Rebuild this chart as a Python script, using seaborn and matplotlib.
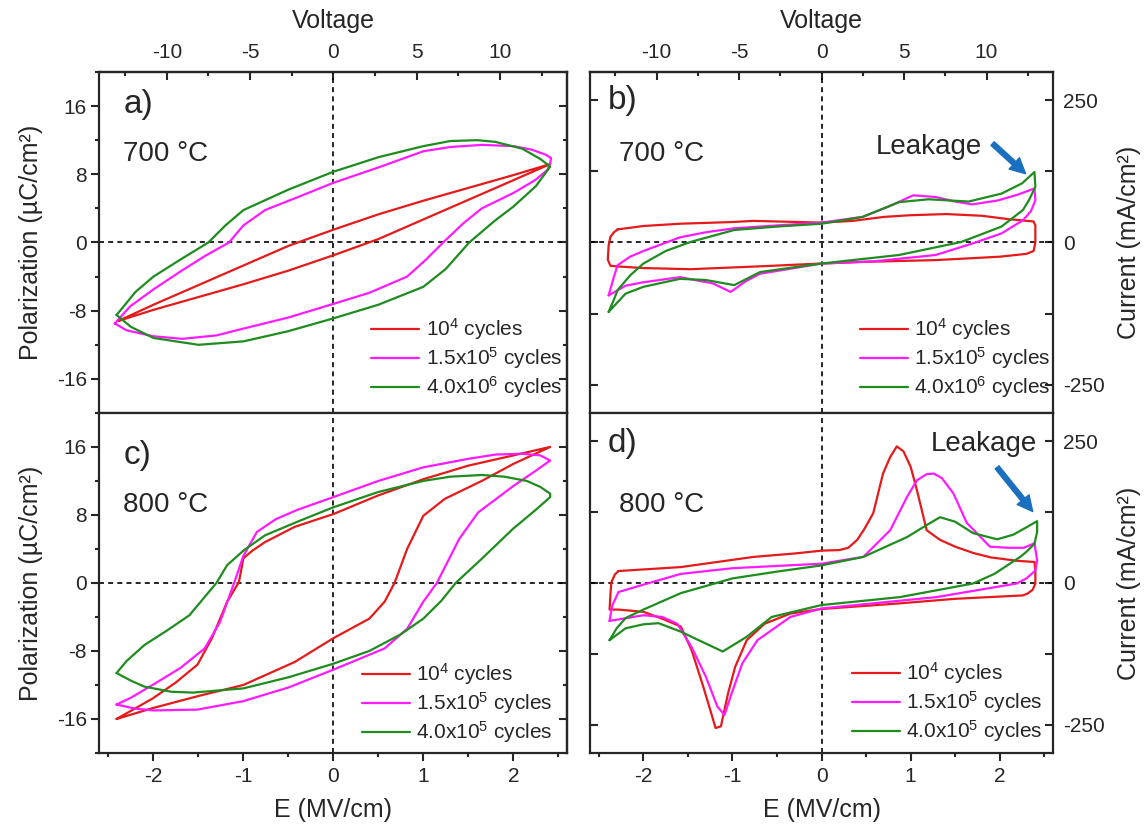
import numpy as np
import pandas as pd
import seaborn as sns
import matplotlib.pyplot as plt
from matplotlib.ticker import MultipleLocator, FixedLocator

sns.set_style('ticks')
plt.rcParams['font.family'] = ['Liberation Sans', 'DejaVu Sans']
plt.rcParams['mathtext.default'] = 'regular'
plt.rcParams['axes.unicode_minus'] = False

# kleuren
RED = '#e51a1a'
MAG = '#ff1aff'
GRN = '#1e8c1e'
BLUE = '#1b6fbf'

# ---- a) P-E 700 C  (lower branch links->rechts, dan upper terug)
a_red_E = [-2.39, -2.0, -1.5, -1.0, -0.5, 0, 0.5, 1.0, 1.5, 2.0, 2.41,
           2.0, 1.5, 1.0, 0.5, 0, -0.5, -1.0, -1.5, -2.0, -2.39]
a_red_P = [-9.2, -7.9, -6.4, -4.9, -3.3, -1.5, 0.4, 2.7, 5.0, 7.3, 9.2,
           7.9, 6.4, 4.9, 3.3, 1.5, -0.4, -2.7, -5.0, -7.3, -9.2]
a_mag_E = [-2.43, -2.3, -2.0, -1.68, -1.3, -1.0, -0.5, 0, 0.4, 0.82, 1.03, 1.22, 1.45, 1.65, 2.0, 2.24, 2.38, 2.41,
           2.42, 2.36, 2.2, 2.0, 1.65, 1.3, 1.0, 0.5, 0, -0.4, -0.76, -1.0, -1.16, -1.43, -1.7, -2.0, -2.26, -2.43]
a_mag_P = [-9.5, -10.3, -11.0, -11.3, -10.9, -10.1, -8.8, -7.2, -5.9, -4.0, -2.0, 0, 2.3, 4.0, 5.8, 7.3, 8.5, 9.3,
           9.9, 10.3, 10.9, 11.3, 11.45, 11.2, 10.7, 8.8, 7.0, 5.3, 3.8, 2.0, 0, -1.6, -3.4, -5.5, -7.5, -9.5]
a_grn_E = [-2.41, -2.25, -2.0, -1.5, -1.0, -0.5, 0, 0.5, 1.0, 1.25, 1.51, 1.8, 2.0, 2.25, 2.41,
           2.3, 2.1, 1.8, 1.6, 1.3, 1.0, 0.5, 0, -0.5, -0.75, -1.0, -1.2, -1.39, -1.7, -2.0, -2.2, -2.3, -2.41]
a_grn_P = [-8.5, -9.9, -11.2, -12.0, -11.6, -10.4, -8.9, -7.3, -5.2, -3.1, 0, 2.6, 4.2, 6.6, 8.9,
           9.8, 11.0, 11.8, 12.0, 11.9, 11.3, 10.0, 8.3, 6.2, 5.0, 3.8, 2.0, 0, -2.0, -4.0, -5.8, -7.1, -8.5]

# ---- c) P-E 800 C
c_red_E = [-2.41, -2.0, -1.5, -1.0, -0.43, 0, 0.4, 0.57, 0.68, 0.82, 1.0, 1.24, 1.65, 2.0, 2.41,
           2.0, 1.5, 1.0, 0.5, 0, -0.43, -0.76, -0.9, -1.0, -1.05, -1.18, -1.35, -1.51, -1.75, -2.01, -2.41]
c_red_P = [-16.0, -14.7, -13.3, -12.0, -9.3, -6.5, -4.2, -2.2, 0, 4.0, 7.9, 9.9, 12.0, 14.0, 16.0,
           15.0, 13.8, 12.2, 10.3, 8.1, 6.6, 4.8, 3.8, 2.9, 0.1, -2.2, -6.5, -9.6, -11.7, -13.6, -16.0]
c_mag_E = [-2.41, -2.2, -2.0, -1.51, -1.0, -0.5, 0, 0.57, 0.82, 1.0, 1.15, 1.4, 1.61, 2.0, 2.25, 2.41,
           2.3, 2.1, 1.8, 1.5, 1.0, 0.5, 0, -0.4, -0.64, -0.85, -1.0, -1.1, -1.26, -1.43, -1.7, -2.01, -2.25, -2.41]
c_mag_P = [-14.3, -14.8, -15.0, -14.9, -13.9, -12.3, -10.2, -7.7, -5.4, -2.2, 0, 5.2, 8.3, 11.4, 13.2, 14.4,
           15.0, 15.2, 15.1, 14.6, 13.6, 12.0, 10.1, 8.6, 7.5, 6.0, 3.2, 0.1, -4.6, -7.7, -10.0, -12.0, -13.5, -14.3]
c_grn_E = [-2.41, -2.25, -2.1, -1.8, -1.56, -1.0, -0.5, 0, 0.4, 0.74, 1.0, 1.2, 1.36, 1.65, 2.0, 2.25, 2.41,
           2.41, 2.3, 2.15, 1.9, 1.65, 1.3, 1.0, 0.5, 0, -0.4, -0.76, -1.0, -1.18, -1.3, -1.6, -1.85, -2.1, -2.3, -2.41]
c_grn_P = [-10.6, -11.5, -12.2, -12.8, -12.9, -12.4, -11.1, -9.5, -8.0, -6.1, -4.2, -2.1, 0, 2.85, 6.4, 8.6, 10.1,
           10.5, 11.3, 12.0, 12.5, 12.7, 12.5, 12.0, 10.7, 8.9, 7.2, 5.6, 3.8, 2.1, 0, -3.8, -5.6, -7.3, -9.2, -10.6]

# ---- b) I-E 700 C
b_red_E = [-2.29, -2.0, -1.59, -1.0, -0.77, 0, 0.35, 0.7, 1.0, 1.4, 1.8, 2.1, 2.38, 2.40, 2.40, 2.38, 2.3,
           2.0, 1.28, 0.5, 0, -0.7, -1.47, -2.0, -2.3, -2.37, -2.40, -2.39, -2.37, -2.33, -2.29]
b_red_I = [23, 29, 33, 36, 38, 35, 38, 45, 48, 50, 47, 41, 37, 30, 0, -15, -20,
           -25, -31, -34, -37, -42, -47, -45, -42, -41, -30, -5, 10, 18, 23]
b_mag_E = [-2.39, -2.33, -2.29, -2.15, -2.0, -1.59, -1.3, -0.98, -0.5, 0, 0.46, 0.75, 1.03, 1.28, 1.5, 1.69, 1.98, 2.2, 2.39,
           2.40, 2.35, 2.26, 2.02, 1.69, 1.28, 0.6, 0, -0.69, -0.85, -1.02, -1.22, -1.59, -2.0, -2.2, -2.39]
b_mag_I = [-93, -60, -40, -25, -15, 9, 18, 25, 30, 35, 45, 63, 83, 80, 72, 67, 74, 84, 95,
           74, 55, 39, 16, -2, -22, -33, -37, -55, -68, -87, -72, -61, -70, -76, -93]
b_grn_E = [-2.39, -2.33, -2.29, -2.15, -2.0, -1.75, -1.47, -0.98, -0.5, 0, 0.46, 0.87, 1.2, 1.65, 2.02, 2.25, 2.39,
           2.40, 2.33, 2.26, 2.02, 1.57, 0.87, 0, -0.69, -0.98, -1.3, -1.59, -2.0, -2.2, -2.39]
b_grn_I = [-122, -100, -84, -58, -37, -15, 1, 22, 28, 33, 45, 71, 76, 72, 86, 104, 124,
           98, 75, 57, 28, 1, -22, -37, -52, -75, -66, -64, -78, -90, -122]

# ---- d) I-E 800 C
d_red_E = [-2.28, -1.58, -0.76, -0.3, 0, 0.2, 0.3, 0.40, 0.48, 0.58, 0.69, 0.77, 0.845, 0.92, 1.0, 1.07, 1.18, 1.33, 1.5, 1.7,
           1.9, 2.2, 2.39, 2.40, 2.40, 2.37, 2.31, 2.26, 1.5, 0.88, 0, -0.35, -0.64, -0.84, -0.97, -1.05, -1.13, -1.19,
           -1.25, -1.34, -1.46, -1.58, -1.79, -2.0, -2.28, -2.38, -2.37, -2.36, -2.32, -2.28]
d_red_I = [21, 28, 46, 52, 57, 58, 62, 76, 95, 123, 193, 222, 241, 232, 205, 164, 93, 76, 64, 53,
           45, 39, 37, 20, -1, -12, -19, -22, -28, -36, -46, -54, -72, -101, -148, -195, -253, -256,
           -224, -177, -118, -77, -63, -51, -47, -47, -20, 1, 15, 21]
d_mag_E = [-2.38, -2.35, -2.28, -2.0, -1.58, -1.0, 0, 0.47, 0.77, 0.96, 1.07, 1.18, 1.26, 1.35, 1.48, 1.63, 1.89, 2.1, 2.27, 2.39,
           2.42, 2.40, 2.3, 2.19, 1.29, 0, -0.35, -0.72, -0.89, -1.01, -1.09, -1.17, -1.30, -1.46, -1.62, -1.79, -2.0, -2.38]
d_mag_I = [-67, -40, -16, -3, 16, 26, 34, 46, 93, 152, 181, 192, 193, 185, 158, 106, 64, 62, 62, 70,
           40, 22, 8, -1, -25, -45, -60, -101, -142, -195, -233, -218, -165, -113, -72, -60, -57, -67]
d_grn_E = [-2.38, -2.3, -2.2, -2.0, -1.58, -1.0, -0.5, 0, 0.47, 0.96, 1.2, 1.33, 1.5, 1.70, 1.97, 2.15, 2.31, 2.42,
           2.42, 2.39, 2.3, 2.23, 1.94, 1.7, 0.88, 0, -0.56, -0.84, -1.11, -1.38, -1.58, -1.83, -2.0, -2.2, -2.38]
d_grn_I = [-101, -80, -62, -47, -18, 8, 20, 31, 46, 81, 104, 116, 108, 88, 77, 85, 99, 109,
           90, 69, 55, 46, 16, -1, -25, -39, -60, -95, -121, -101, -86, -71, -73, -80, -101]

labels_700 = ['10$^4$ cycles', '1.5x10$^5$ cycles', '4.0x10$^6$ cycles']
labels_800 = ['10$^4$ cycles', '1.5x10$^5$ cycles', '4.0x10$^5$ cycles']
V_PER_E = 5.4  # volt per MV/cm

fig = plt.figure(figsize=(11.46, 8.32), dpi=100)
ax_a = fig.add_axes([0.0868, 0.5036, 0.4082, 0.4099])
ax_c = fig.add_axes([0.0868, 0.0950, 0.4082, 0.4087])
ax_b = fig.add_axes([0.5148, 0.5036, 0.4042, 0.4099])
ax_d = fig.add_axes([0.5148, 0.0950, 0.4042, 0.4087])

series = {
    ax_a: [(a_red_E, a_red_P), (a_mag_E, a_mag_P), (a_grn_E, a_grn_P)],
    ax_c: [(c_red_E, c_red_P), (c_mag_E, c_mag_P), (c_grn_E, c_grn_P)],
    ax_b: [(b_red_E, b_red_I), (b_mag_E, b_mag_I), (b_grn_E, b_grn_I)],
    ax_d: [(d_red_E, d_red_I), (d_mag_E, d_mag_I), (d_grn_E, d_grn_I)],
}
labs = {ax_a: labels_700, ax_b: labels_700, ax_c: labels_800, ax_d: labels_800}

for ax, ser in series.items():
    ax.axhline(0, color='k', ls=(0, (3, 2.5)), lw=1.2, zorder=1)
    ax.axvline(0, color='k', ls=(0, (3, 2.5)), lw=1.2, zorder=1)
    for (E, Y), col, lab in zip(ser, [RED, MAG, GRN], labs[ax]):
        sns.lineplot(x=E, y=Y, sort=False, estimator=None, color=col, lw=1.6, ax=ax, label=lab)
    ax.set_xlim(-2.6, 2.6)
    for s in ax.spines.values():
        s.set_linewidth(1.6)
        s.set_visible(True)
    ax.xaxis.set_major_locator(MultipleLocator(1))
    ax.xaxis.set_minor_locator(MultipleLocator(0.5))
    ax.tick_params(axis='x', which='both', direction='out', top=False, bottom=True, width=1.5, labelsize=15, pad=4)
    ax.tick_params(axis='x', which='major', length=6)
    ax.tick_params(axis='x', which='minor', length=3)
    ax.set_xlabel('')
    ax.set_ylabel('')

# links: polarisatie
for ax in [ax_a, ax_c]:
    ax.set_ylim(-20, 20)
    ax.yaxis.set_major_locator(MultipleLocator(8))
    ax.yaxis.set_minor_locator(MultipleLocator(4))
    ax.tick_params(axis='y', which='both', direction='out', left=True, right=False, width=1.5, labelsize=15, pad=3)
    ax.tick_params(axis='y', which='major', length=6)
    ax.tick_params(axis='y', which='minor', length=3)
    ax.set_ylabel('Polarization (µC/cm²)', fontsize=18, labelpad=10)
    sec = ax.secondary_yaxis('right')
    sec.yaxis.set_major_locator(FixedLocator([-16, -8, 0, 8, 16]))
    sec.yaxis.set_minor_locator(FixedLocator([-12, -4, 4, 12]))
    sec.tick_params(which='both', direction='in', width=1.5, labelright=False)
    sec.tick_params(which='major', length=6)
    sec.tick_params(which='minor', length=3)
    sec.spines['right'].set_linewidth(1.6)

# rechts: stroom
for ax in [ax_b, ax_d]:
    ax.set_ylim(-300, 300)
    ax.set_yticks([-250, -125, 0, 125, 250], labels=['-250', '', '0', '', '250'])
    ax.tick_params(axis='y', which='both', direction='in', left=True, right=True, labelleft=False,
                   labelright=True, width=1.5, length=6, labelsize=15, pad=7)
    ax.yaxis.set_label_position('right')
    ax.set_ylabel('Current (mA/cm²)', fontsize=18, labelpad=9)

for ax in [ax_a, ax_b]:
    ax.tick_params(axis='x', labelbottom=False)
    top = ax.secondary_xaxis('top', functions=(lambda e: e * V_PER_E, lambda v: v / V_PER_E))
    top.xaxis.set_major_locator(FixedLocator([-10, -5, 0, 5, 10]))
    top.xaxis.set_minor_locator(FixedLocator([-12.5, -7.5, -2.5, 2.5, 7.5, 12.5]))
    top.tick_params(which='both', direction='in', width=1.5, labelsize=15, pad=7)
    top.tick_params(which='major', length=6)
    top.tick_params(which='minor', length=3)
    top.spines['top'].set_linewidth(1.6)
    top.set_xlabel('Voltage', fontsize=18, labelpad=11)

for ax in [ax_c, ax_d]:
    ax.set_xlabel('E (MV/cm)', fontsize=18, labelpad=9)

# legenda's
leg_pos = {ax_a: (0.989, 0.038), ax_b: (0.994, 0.038), ax_c: (0.968, 0.022), ax_d: (0.978, 0.026)}
for ax, pos in leg_pos.items():
    ax.legend(loc='lower right', bbox_to_anchor=pos, frameon=False, fontsize=15, borderpad=0,
              borderaxespad=0, handlelength=2.3, handletextpad=0.3, labelspacing=0.15)

# paneel teksten
ax_a.text(0.051, 0.904, 'a)', transform=ax_a.transAxes, fontsize=24, va='center')
ax_a.text(0.051, 0.76, '700 °C', transform=ax_a.transAxes, fontsize=20, va='center')
ax_c.text(0.051, 0.875, 'c)', transform=ax_c.transAxes, fontsize=24, va='center')
ax_c.text(0.051, 0.73, '800 °C', transform=ax_c.transAxes, fontsize=20, va='center')
ax_b.text(0.039, 0.915, 'b)', transform=ax_b.transAxes, fontsize=24, va='center')
ax_b.text(0.063, 0.76, '700 °C', transform=ax_b.transAxes, fontsize=20, va='center')
ax_d.text(0.039, 0.91, 'd)', transform=ax_d.transAxes, fontsize=24, va='center')
ax_d.text(0.063, 0.73, '800 °C', transform=ax_d.transAxes, fontsize=20, va='center')

ax_b.text(0.618, 0.78, 'Leakage', transform=ax_b.transAxes, fontsize=20, va='center')
ax_d.text(0.735, 0.91, 'Leakage', transform=ax_d.transAxes, fontsize=20, va='center')
arrow = dict(facecolor=BLUE, edgecolor=BLUE, width=3.5, headwidth=11, headlength=11, shrink=0)
ax_b.annotate('', xy=(2.29, 121), xytext=(1.92, 174), arrowprops=arrow)
ax_d.annotate('', xy=(2.37, 126), xytext=(1.97, 204), arrowprops=arrow)

fig.savefig('out.png', dpi=100)
